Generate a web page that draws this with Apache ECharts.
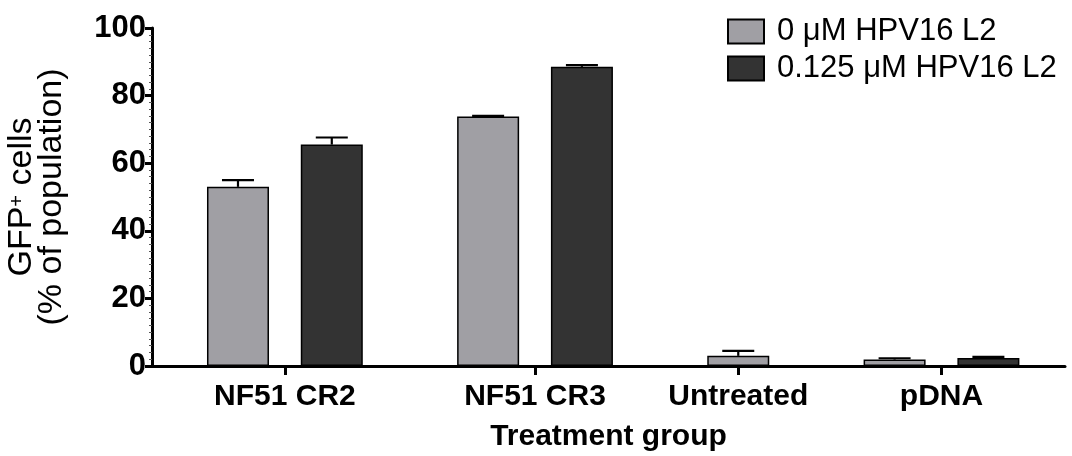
<!DOCTYPE html>
<html>
<head>
<meta charset="utf-8">
<script src="https://cdn.jsdelivr.net/npm/echarts@6/dist/echarts.min.js"></script>
<style>
  html, body { margin: 0; padding: 0; background: #fff; }
  #chart { width: 1072px; height: 456px; }
</style>
</head>
<body>
<div id="chart"></div>
<script>
// Treatment groups and GFP+ percentages (mean and upper SEM)
const categories = ['NF51 CR2', 'NF51 CR3', 'Untreated', 'pDNA'];
const seriesNames = ['0 \u03bcM HPV16 L2', '0.125 \u03bcM HPV16 L2'];
const meansLow  = [53.0, 73.8, 3.0, 1.9];
const errLow    = [2.0, 0.2, 1.5, 0.4];
const meansHigh = [65.5, 88.5, null, 2.4];
const errHigh   = [2.1, 0.5, null, 0.3];
const yTicks = [0, 20, 40, 60, 80, 100];

const FONT = 'Liberation Sans, Arial, sans-serif';
const colors = ['#a09fa4', '#333333'];

// Bar slots along the x scale: bars in a group are 3 units apart,
// consecutive bars in neighbouring groups are 5 units apart.
const START = 2.75, IN_STEP = 3, OUT_STEP = 5, END_PAD = 2.45;
const means = [meansLow, meansHigh];
const errs = [errLow, errHigh];
const barData = [[], []];
const errData = [[], []];
const groupCenters = [];
let pos = START - OUT_STEP;
categories.forEach((c, gi) => {
  const xs = [];
  let first = true;
  for (let s = 0; s < 2; s++) {
    const v = means[s][gi];
    if (v == null) continue;
    pos += first ? OUT_STEP : IN_STEP;
    first = false;
    xs.push(pos);
    barData[s].push([pos, v]);
    errData[s].push([pos, v, errs[s][gi]]);
  }
  groupCenters.push(xs.reduce((a, b) => a + b, 0) / xs.length);
});
const xMax = pos + END_PAD;

function renderErr(params, api) {
  const x = api.value(0), v = api.value(1), e = api.value(2);
  const base = api.coord([x, v]);
  const top = api.coord([x, v + e]);
  const half = 16;
  const style = { stroke: '#000', lineWidth: 2.2 };
  return {
    type: 'group',
    children: [
      { type: 'line', shape: { x1: base[0], y1: base[1], x2: top[0], y2: top[1] }, style },
      { type: 'line', shape: { x1: top[0] - half, y1: top[1], x2: top[0] + half, y2: top[1] }, style }
    ]
  };
}

const chart = echarts.init(document.getElementById('chart'), null, { renderer: 'canvas' });

const barSeries = seriesNames.map((name, s) => ({
  name,
  type: 'bar',
  data: barData[s],
  barWidth: 62,
  barGap: '-100%',
  itemStyle: { color: colors[s], borderColor: '#000', borderWidth: 1.5 },
  emphasis: { disabled: true },
  z: 2
}));

const errSeries = errData.map((d, s) => ({
  type: 'custom',
  data: d,
  renderItem: renderErr,
  encode: { x: 0, y: 1 },
  silent: true,
  z: 3
}));

chart.setOption({
  animation: false,
  textStyle: { fontFamily: FONT },
  legend: {
    data: seriesNames,
    orient: 'vertical',
    left: 722,
    top: 11,
    itemWidth: 36,
    itemHeight: 24,
    itemGap: 6,
    icon: 'rect',
    selectedMode: false,
    textStyle: { fontFamily: FONT, fontSize: 31, color: '#000', padding: [0, 0, 0, 8] }
  },
  grid: { left: 152, right: 7, top: 28, bottom: 90, outerBoundsMode: 'none', containLabel: false },
  xAxis: {
    type: 'value',
    min: 0,
    max: xMax,
    splitLine: { show: false },
    axisLine: { show: true, onZero: false, lineStyle: { color: '#000', width: 3 } },
    axisTick: { show: true, customValues: groupCenters, length: 9, lineStyle: { color: '#000', width: 3 } },
    axisLabel: {
      customValues: groupCenters,
      formatter: (val) => {
        let best = 0;
        groupCenters.forEach((g, i) => { if (Math.abs(g - val) < Math.abs(groupCenters[best] - val)) best = i; });
        return categories[best];
      },
      fontFamily: FONT, fontSize: 30, fontWeight: 'bold', color: '#000', margin: 16
    },
    name: 'Treatment group',
    nameLocation: 'middle',
    nameGap: 56,
    nameTextStyle: { fontFamily: FONT, fontSize: 30, fontWeight: 'bold', color: '#000' }
  },
  yAxis: {
    type: 'value',
    min: 0,
    max: 100,
    interval: 20,
    splitLine: { show: false },
    axisLine: { show: true, lineStyle: { color: '#000', width: 3 } },
    axisTick: { show: true, length: 7, lineStyle: { color: '#000', width: 3 } },
    minorTick: { show: true, splitNumber: 10, length: 3, lineStyle: { color: '#555', width: 1 } },
    axisLabel: {
      formatter: (v) => (yTicks.includes(v) ? String(v) : ''),
      fontFamily: FONT, fontSize: 31, fontWeight: 'bold', color: '#000', margin: 6
    },
    name: '{a|GFP}{s|+}{a| cells}\n{a|(% of population)}',
    nameLocation: 'middle',
    nameGap: 85,
    nameRotate: 90,
    nameTextStyle: {
      fontFamily: FONT,
      color: '#000',
      align: 'center',
      rich: {
        a: { fontFamily: FONT, fontSize: 34, lineHeight: 30, color: '#000' },
        s: { fontFamily: FONT, fontSize: 20, lineHeight: 30, color: '#000', verticalAlign: 'top', padding: [0, 0, 12, 0] }
      }
    }
  },
  series: [...barSeries, ...errSeries]
});
</script>
</body>
</html>
